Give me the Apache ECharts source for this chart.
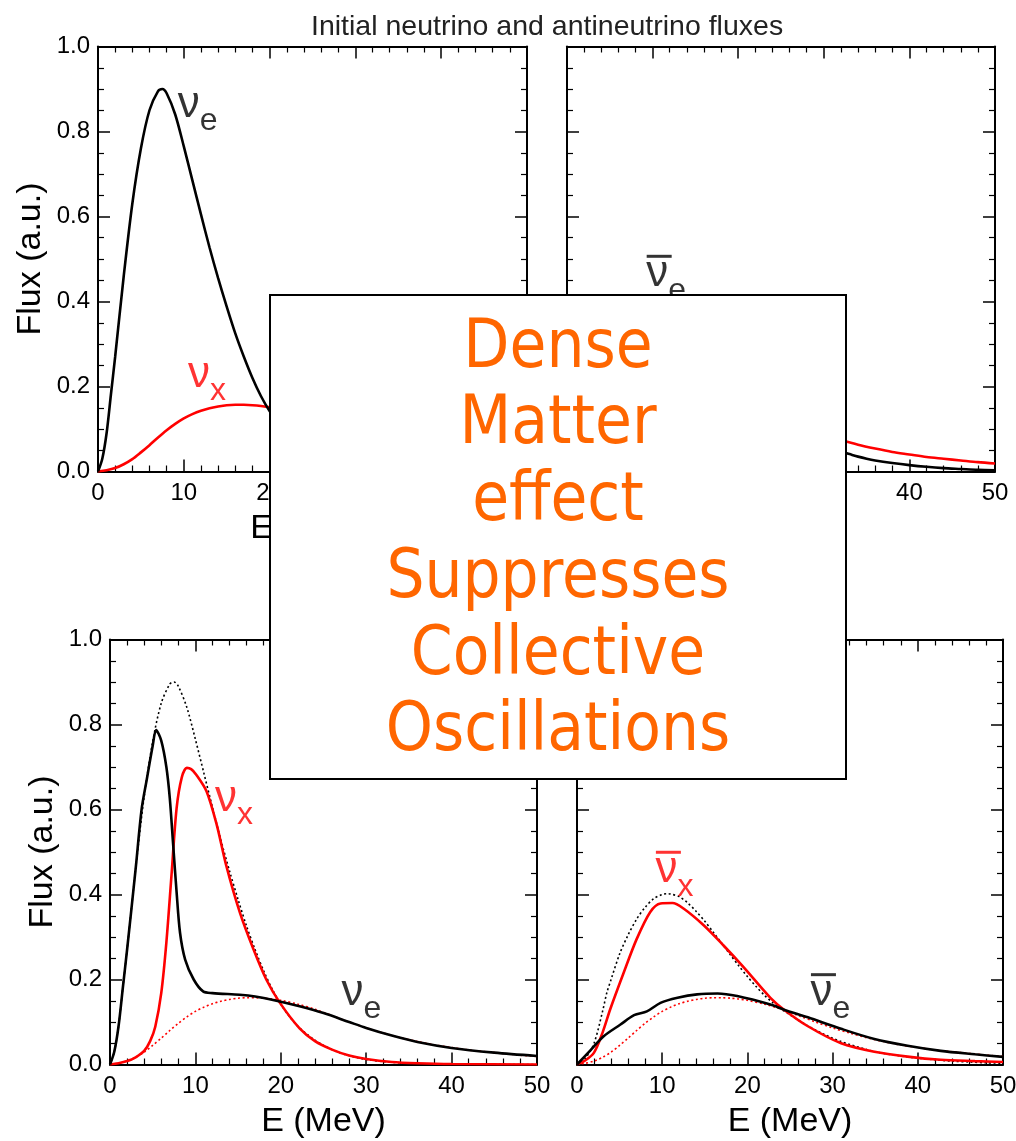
<!DOCTYPE html>
<html>
<head>
<meta charset="utf-8">
<script src="https://cdn.jsdelivr.net/npm/echarts@6/dist/echarts.min.js"></script>
<style>
html,body{margin:0;padding:0;background:#fff;}
#chart{width:1016px;height:1141px;}
</style>
</head>
<body>
<div id="chart"></div>
<script>
// ---------------- DATA ----------------
const chartTitle = 'Initial neutrino and antineutrino fluxes';
const xAxisName = 'E (MeV)';
const yAxisName = 'Flux (a.u.)';
const boxLines = ['Dense', 'Matter', 'effect', 'Suppresses', 'Collective', 'Oscillations'];

// initial nu_e spectrum (top-left solid black, bottom-left dotted black)
const eNuEInit    = [0,0.5,1,1.5,2,3,4,5,6,7,7.5,8,9,10,11,12,13,14,15,16,17,18,19,20,21,22,23,24,25,26,27,28,29,30,32,34,36,40,50];
const fluxNuEInit = [0,0.03,0.09,0.18,0.27,0.46,0.63,0.76,0.85,0.895,0.9,0.89,0.84,0.765,0.685,0.605,0.527,0.455,0.388,0.325,0.27,0.22,0.177,0.142,0.113,0.09,0.072,0.057,0.045,0.035,0.027,0.021,0.016,0.012,0.007,0.004,0.002,0.0007,0];

// initial nu_x (= anti nu_x) spectrum (red solid top panels, red dotted bottom panels)
const eNuXInit    = [0,1,2,3,4,5,6,7,8,9,10,11,12,13,14,15,16,17,18,19,20,22,24,26,28,30,32,34,36,38,40,42,44,46,48,50];
const fluxNuXInit = [0,0.003,0.008,0.017,0.029,0.045,0.062,0.08,0.097,0.112,0.125,0.135,0.143,0.149,0.153,0.156,0.157,0.157,0.156,0.154,0.151,0.142,0.13,0.115,0.1,0.086,0.074,0.063,0.054,0.046,0.04,0.034,0.03,0.026,0.022,0.019];

// initial anti nu_e spectrum (top-right solid black, bottom-right dotted black)
const eNuEbarInit    = [0,1,2,3,3.5,4,5,6,7,8,9,10,10.6,11,12,13,14,15,16,17,18,19,20,21,22,23,24,25,26,27,28,29,30,31,32,33,34,35,36,38,40,42,44,46,48,50];
const fluxNuEbarInit = [0,0.015,0.05,0.125,0.169,0.2,0.26,0.305,0.342,0.37,0.39,0.4,0.402,0.401,0.395,0.38,0.36,0.337,0.311,0.285,0.258,0.232,0.207,0.184,0.163,0.145,0.13,0.117,0.104,0.092,0.081,0.071,0.062,0.054,0.047,0.041,0.035,0.03,0.026,0.02,0.015,0.011,0.008,0.006,0.004,0.003];

// final nu_e (bottom-left solid black)
const eNuEFinal    = [0,0.5,1,1.5,2,3,3.7,4.3,5,5.4,6,6.6,7,7.4,7.8,8.2,8.8,9.8,10.9,12,15.2,17,19.1,22.2,25,28,30,33,36,40,45,50];
const fluxNuEFinal = [0,0.03,0.09,0.18,0.27,0.46,0.6,0.67,0.75,0.787,0.762,0.70,0.627,0.516,0.405,0.31,0.247,0.2,0.172,0.168,0.164,0.16,0.152,0.137,0.121,0.1,0.086,0.068,0.053,0.039,0.028,0.02];

// final nu_x (bottom-left solid red)
const eNuXFinal    = [0,1,2,3,4,4.7,5.3,6,6.6,7.2,7.8,8.4,9,9.5,10.1,11.3,12.5,13.6,15.2,16.8,18.3,19.9,22.2,24,26,28,30,33,36,40,50];
const fluxNuXFinal = [0,0.003,0.008,0.017,0.032,0.055,0.089,0.168,0.287,0.445,0.603,0.675,0.698,0.695,0.682,0.643,0.564,0.469,0.358,0.271,0.2,0.145,0.085,0.055,0.035,0.021,0.013,0.006,0.003,0.001,0];

// final anti nu_e (bottom-right solid black)
const eNuEbarFinal    = [0,1.6,3.1,5.1,6.7,8.2,9.8,11.8,14.1,16.5,18.8,22.7,24.3,27.1,31,34.9,38.8,42.7,46.7,50];
const fluxNuEbarFinal = [0,0.034,0.066,0.094,0.116,0.125,0.145,0.157,0.165,0.167,0.161,0.141,0.129,0.111,0.084,0.06,0.044,0.032,0.024,0.018];

// final anti nu_x (bottom-right solid red)
const eNuXbarFinal    = [0,1,2,3,3.9,5.5,7,8.6,9.8,11.2,12.5,14.9,17.2,19.6,22.7,24.3,27.1,31,34.9,38.8,42.7,46.7,50];
const fluxNuXbarFinal = [0,0.01,0.028,0.075,0.13,0.217,0.295,0.359,0.379,0.38,0.367,0.327,0.28,0.228,0.157,0.129,0.09,0.05,0.03,0.0185,0.011,0.008,0.006];

// curve tags: panel, subscript, anti?, anchor (E, flux) of the nu glyph
const tagPanel  = [0, 0, 1, 2, 2, 3, 3];
const tagSub    = ['e', 'x', 'e', 'x', 'e', 'x', 'e'];
const tagAnti   = [false, false, true, false, false, true, true];
const tagE      = [9.3, 10.5, 9.25, 12.3, 27.1, 9.2, 27.4];
const tagFlux   = [0.862, 0.228, 0.464, 0.625, 0.169, 0.457, 0.169];

// ---------------- CHART ----------------
const FONT = '"Liberation Sans", Arial, Helvetica, sans-serif';
const BLACK = '#000000', RED = '#ff0000';
const zip = (xs, ys) => xs.map((x, i) => [x, ys[i]]);

const grids = [
  { left: 98,  top: 46.5,  width: 429, height: 425 },
  { left: 567, top: 46.5,  width: 428, height: 425 },
  { left: 110, top: 639.5, width: 427, height: 425 },
  { left: 577, top: 639.5, width: 426, height: 425 }
].map(g => Object.assign({ containLabel: false, outerBoundsMode: 'none' }, g));

const tickCommon = {
  axisLine: { show: true, onZero: false, lineStyle: { color: BLACK, width: 2 } },
  axisTick: { show: true, inside: true, length: 12, lineStyle: { color: BLACK, width: 1.5 } },
  splitLine: { show: false },
  minorSplitLine: { show: false }
};

const xAxes = [], yAxes = [];
grids.forEach((g, i) => {
  const leftPanel = (i % 2 === 0);
  const xBase = Object.assign({ type: 'value', gridIndex: i, min: 0, max: 50, interval: 10,
    minorTick: { show: true, splitNumber: 5, length: 6, lineStyle: { color: BLACK, width: 1.2 } } }, tickCommon);
  xAxes.push(Object.assign({}, xBase, {
    position: 'bottom',
    axisLabel: { show: true, fontSize: 24, color: BLACK, fontFamily: FONT, margin: 10, showMinLabel: true, showMaxLabel: true, hideOverlap: false },
    name: xAxisName, nameLocation: 'middle', nameGap: 40,
    nameTextStyle: { fontSize: 34, color: BLACK, fontFamily: FONT }
  }));
  xAxes.push(Object.assign({}, xBase, { position: 'top', axisLabel: { show: false } }));
  const yBase = Object.assign({ type: 'value', gridIndex: i, min: 0, max: 1, interval: 0.2,
    minorTick: { show: true, splitNumber: 4, length: 6, lineStyle: { color: BLACK, width: 1.2 } } }, tickCommon);
  yAxes.push(Object.assign({}, yBase, {
    position: 'left',
    axisLabel: { show: leftPanel, fontSize: 24, color: BLACK, fontFamily: FONT, margin: 8,
      formatter: v => v.toFixed(1), showMinLabel: true, showMaxLabel: true, hideOverlap: false },
    name: leftPanel ? yAxisName : '', nameLocation: 'middle', nameGap: 50,
    nameTextStyle: { fontSize: 34, color: BLACK, fontFamily: FONT }
  }));
  yAxes.push(Object.assign({}, yBase, { position: 'right', axisLabel: { show: false } }));
});

function line(panel, xs, ys, color, dotted) {
  return {
    type: 'line', xAxisIndex: panel * 2, yAxisIndex: panel * 2,
    data: zip(xs, ys), showSymbol: false, symbol: 'none',
    smooth: 0.3, silent: true,
    lineStyle: dotted ? { color: color, width: 1.6, type: [2, 2.6] } : { color: color, width: 2.6 },
    z: dotted ? 2 : (color === RED ? 3 : 4)
  };
}

const series = [
  // top-left: initial neutrinos
  line(0, eNuXInit, fluxNuXInit, RED, false),
  line(0, eNuEInit, fluxNuEInit, BLACK, false),
  // top-right: initial antineutrinos
  line(1, eNuXInit, fluxNuXInit, RED, false),
  line(1, eNuEbarInit, fluxNuEbarInit, BLACK, false),
  // bottom-left: final neutrinos + initial dotted
  line(2, eNuEInit, fluxNuEInit, BLACK, true),
  line(2, eNuXInit, fluxNuXInit, RED, true),
  line(2, eNuXFinal, fluxNuXFinal, RED, false),
  line(2, eNuEFinal, fluxNuEFinal, BLACK, false),
  // bottom-right: final antineutrinos + initial dotted
  line(3, eNuEbarInit, fluxNuEbarInit, BLACK, true),
  line(3, eNuXInit, fluxNuXInit, RED, true),
  line(3, eNuXbarFinal, fluxNuXbarFinal, RED, false),
  line(3, eNuEbarFinal, fluxNuEbarFinal, BLACK, false)
];

// curve tags as labels anchored in data space; antineutrino bars as rect symbols
for (let p = 0; p < 4; p++) {
  const labels = [], bars = [];
  tagPanel.forEach((tp, k) => {
    if (tp !== p) return;
    const color = tagSub[k] === 'x' ? RED : BLACK;
    labels.push({ value: [tagE[k], tagFlux[k]],
      label: { show: true, position: 'right', distance: 0, formatter: '{n|\u03bd}{s|' + tagSub[k] + '}',
        rich: {
          n: { fontSize: 44, fontFamily: FONT, color: color },
          s: { fontSize: 32, fontFamily: FONT, color: color, padding: [33, 0, 0, 0] }
        } } });
    if (tagAnti[k]) {
      bars.push({ value: [tagE[k], tagFlux[k]], itemStyle: { color: color } });
    }
  });
  series.push({
    type: 'scatter', xAxisIndex: p * 2, yAxisIndex: p * 2, symbolSize: 0, silent: true, z: 10,
    data: labels, labelLayout: { hideOverlap: false }
  });
  if (bars.length) {
    series.push({
      type: 'scatter', xAxisIndex: p * 2, yAxisIndex: p * 2, silent: true, z: 10,
      symbol: 'rect', symbolSize: [25, 3], symbolOffset: [13, -18], data: bars
    });
  }
}

const chart = echarts.init(document.getElementById('chart'), null, { renderer: 'canvas' });
chart.setOption({
  animation: false,
  backgroundColor: '#ffffff',
  title: {
    text: chartTitle, left: 306, top: 8,
    textStyle: { fontSize: 28.5, fontWeight: 'normal', color: '#222222', fontFamily: FONT }
  },
  grid: grids,
  xAxis: xAxes,
  yAxis: yAxes,
  series: series,
  graphic: [
    {
      type: 'rect', z: 100, silent: true,
      shape: { x: 270, y: 295, width: 576, height: 484 },
      style: { fill: '#ffffff', stroke: '#000000', lineWidth: 2 }
    },
    {
      type: 'text', z: 101, silent: true,
      x: 558, y: 541, scaleY: 1.12,
      style: {
        text: boxLines.join('\n'),
        fill: '#ff6600',
        fontSize: 60,
        fontFamily: '"Comic Sans MS", "DejaVu Sans", sans-serif',
        lineHeight: 68.5,
        align: 'center',
        verticalAlign: 'middle'
      }
    }
  ]
});
</script>
</body>
</html>
